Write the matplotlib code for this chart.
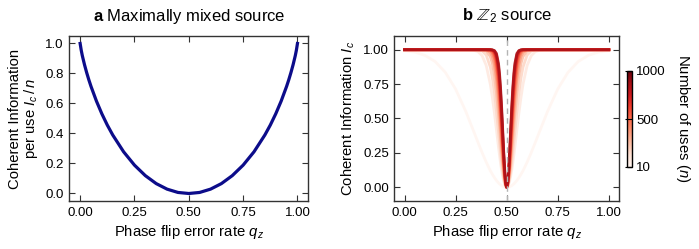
import numpy as np
import matplotlib.pyplot as plt
from matplotlib import cm, colors

# ---- data: panel a (maximally mixed source), half curve, mirrored about q = 0.5
qa_half = [0, 0.005, 0.01, 0.02, 0.03, 0.04, 0.05, 0.075, 0.1, 0.125, 0.15,
           0.2, 0.25, 0.3, 0.35, 0.4, 0.45, 0.5]
ic_a_half = [1.000, 0.955, 0.919, 0.859, 0.806, 0.758, 0.714, 0.616, 0.531,
             0.456, 0.390, 0.278, 0.189, 0.119, 0.066, 0.029, 0.007, 0.000]

# ---- data: panel b (Z2 source), offset from q = 0.5, one row per n
dq = [0, 0.005, 0.01, 0.015, 0.02, 0.025, 0.03, 0.035, 0.04, 0.05, 0.06, 0.07,
      0.08, 0.1, 0.12, 0.14, 0.16, 0.2, 0.25, 0.3, 0.35, 0.4, 0.45, 0.5]
n_uses = [10, 100, 200, 300, 400, 500, 600, 700, 800, 900, 1000]
ic_b = [
    [0.000, 0.001, 0.002, 0.004, 0.008, 0.012, 0.018, 0.024, 0.032, 0.049, 0.070, 0.094,
     0.120, 0.182, 0.251, 0.325, 0.401, 0.551, 0.714, 0.835, 0.914, 0.959, 0.983, 0.993],
    [0.000, 0.005, 0.021, 0.048, 0.083, 0.126, 0.177, 0.233, 0.292, 0.418, 0.541, 0.653,
     0.749, 0.885, 0.956, 0.986, 0.996, 1.000, 1.000, 1.000, 1.000, 1.000, 1.000, 1.000],
    [0.000, 0.008, 0.032, 0.070, 0.121, 0.183, 0.253, 0.327, 0.404, 0.555, 0.688, 0.795,
     0.874, 0.961, 0.991, 0.998, 1.000, 1.000, 1.000, 1.000, 1.000, 1.000, 1.000, 1.000],
    [0.000, 0.012, 0.046, 0.100, 0.172, 0.255, 0.345, 0.438, 0.529, 0.692, 0.816, 0.900,
     0.951, 0.991, 0.999, 1.000, 1.000, 1.000, 1.000, 1.000, 1.000, 1.000, 1.000, 1.000],
    [0.000, 0.015, 0.060, 0.129, 0.218, 0.319, 0.425, 0.530, 0.627, 0.785, 0.891, 0.951,
     0.981, 0.998, 1.000, 1.000, 1.000, 1.000, 1.000, 1.000, 1.000, 1.000, 1.000, 1.000],
    [0.000, 0.019, 0.073, 0.156, 0.261, 0.376, 0.493, 0.603, 0.701, 0.848, 0.934, 0.975,
     0.992, 0.999, 1.000, 1.000, 1.000, 1.000, 1.000, 1.000, 1.000, 1.000, 1.000, 1.000],
    [0.000, 0.022, 0.086, 0.183, 0.301, 0.429, 0.554, 0.667, 0.762, 0.894, 0.960, 0.988,
     0.997, 1.000, 1.000, 1.000, 1.000, 1.000, 1.000, 1.000, 1.000, 1.000, 1.000, 1.000],
    [0.000, 0.025, 0.098, 0.207, 0.338, 0.476, 0.605, 0.718, 0.808, 0.924, 0.976, 0.994,
     0.999, 1.000, 1.000, 1.000, 1.000, 1.000, 1.000, 1.000, 1.000, 1.000, 1.000, 1.000],
    [0.000, 0.029, 0.110, 0.231, 0.374, 0.518, 0.651, 0.761, 0.846, 0.946, 0.985, 0.997,
     0.999, 1.000, 1.000, 1.000, 1.000, 1.000, 1.000, 1.000, 1.000, 1.000, 1.000, 1.000],
    [0.000, 0.032, 0.122, 0.254, 0.406, 0.557, 0.691, 0.798, 0.876, 0.962, 0.991, 0.998,
     1.000, 1.000, 1.000, 1.000, 1.000, 1.000, 1.000, 1.000, 1.000, 1.000, 1.000, 1.000],
    [0.000, 0.035, 0.134, 0.276, 0.437, 0.593, 0.726, 0.828, 0.900, 0.973, 0.994, 0.999,
     1.000, 1.000, 1.000, 1.000, 1.000, 1.000, 1.000, 1.000, 1.000, 1.000, 1.000, 1.000],
]

xticks_a = [0, 0.25, 0.5, 0.75, 1.0]
yticks_a = [0, 0.2, 0.4, 0.6, 0.8, 1.0]
yticks_b = [0, 0.25, 0.5, 0.75, 1.0]
cbar_ticks = [10, 500, 1000]


def mirror(half_x, half_y):
    # curves are symmetric about q = 0.5
    hx = np.array(half_x)
    hy = np.array(half_y)
    return np.concatenate([hx, 1 - hx[::-1][1:]]), np.concatenate([hy, hy[::-1][1:]])


def mirror_offset(off, vals):
    off = np.array(off)
    vals = np.array(vals)
    q = np.concatenate([0.5 - off[::-1], 0.5 + off[1:]])
    return q, np.concatenate([vals[::-1], vals[1:]])


plt.rcParams["font.family"] = ["Liberation Sans", "DejaVu Sans"]
plt.rcParams["font.stretch"] = "normal"
plt.rcParams["mathtext.fontset"] = "custom"
plt.rcParams["mathtext.rm"] = "Liberation Sans"
plt.rcParams["mathtext.it"] = "Liberation Sans:italic"
plt.rcParams["mathtext.bf"] = "Liberation Sans:bold"
plt.rcParams["mathtext.fallback"] = "stixsans"
spine_col = "#333333"
fs_tick = 9.5
fs_lab = 10.7

fig = plt.figure(figsize=(6.99, 2.49), dpi=100)
ax1 = fig.add_axes([0.0991, 0.1928, 0.342, 0.6627])
ax2 = fig.add_axes([0.5641, 0.1928, 0.3215, 0.6627])
cax = fig.add_axes([0.8974, 0.3305, 0.00715, 0.3855])

for ax in (ax1, ax2):
    ax.tick_params(direction="in", top=True, right=True, length=4, width=0.8,
                   color=spine_col, labelsize=fs_tick, pad=4)
    for s in ax.spines.values():
        s.set_color(spine_col)
        s.set_linewidth(1.0)
    ax.set_xlim(-0.05, 1.05)
    ax.set_xticks(xticks_a)
    ax.set_xticklabels(["%.2f" % t for t in xticks_a])
    ax.set_xlabel("Phase flip error rate $q_z$", fontsize=fs_lab, labelpad=3)

# panel a
xa, ya = mirror(qa_half, ic_a_half)
ax1.plot(xa, ya, color="#0c0c8a", lw=2.3)
ax1.set_ylim(-0.05, 1.05)
ax1.set_yticks(yticks_a)
ax1.set_yticklabels(["%.1f" % t for t in yticks_a])
ax1.set_ylabel("Coherent Information\nper use $I_c\\,/\\,n$", fontsize=fs_lab,
               labelpad=4, linespacing=1.0)
ax1.set_title("$\\mathbf{a}$ Maximally mixed source", fontsize=12, pad=11)

# panel b
norm = colors.Normalize(vmin=10, vmax=1000)
cmap = plt.get_cmap("Reds")
for n, vals in zip(n_uses, ic_b):
    qb, yb = mirror_offset(dq, vals)
    ax2.plot(qb, yb, color=cmap(0.85 * norm(n)), lw=2.0, alpha=0.85, zorder=2)
ax2.axvline(0.5, color="#b4b4b4", lw=1.0, ls=(0, (4, 3)), zorder=3)
ax2.set_ylim(-0.1, 1.1)
ax2.set_yticks(yticks_b)
ax2.set_yticklabels(["%.2f" % t for t in yticks_b])
ax2.set_ylabel("Coherent Information $I_c$", fontsize=fs_lab, labelpad=4)
ax2.set_title("$\\mathbf{b}$ $\\mathbb{Z}_2$ source", fontsize=12, pad=11)

cb = fig.colorbar(cm.ScalarMappable(norm=norm, cmap=cmap), cax=cax, ticks=cbar_ticks)
cb.outline.set_linewidth(1.0)
cb.ax.tick_params(direction="in", length=5, width=0.8, labelsize=fs_tick, pad=3)
cb.set_label("Number of uses ($n$)", rotation=270, fontsize=fs_lab, labelpad=19)

fig.savefig("out.png", dpi=100)
